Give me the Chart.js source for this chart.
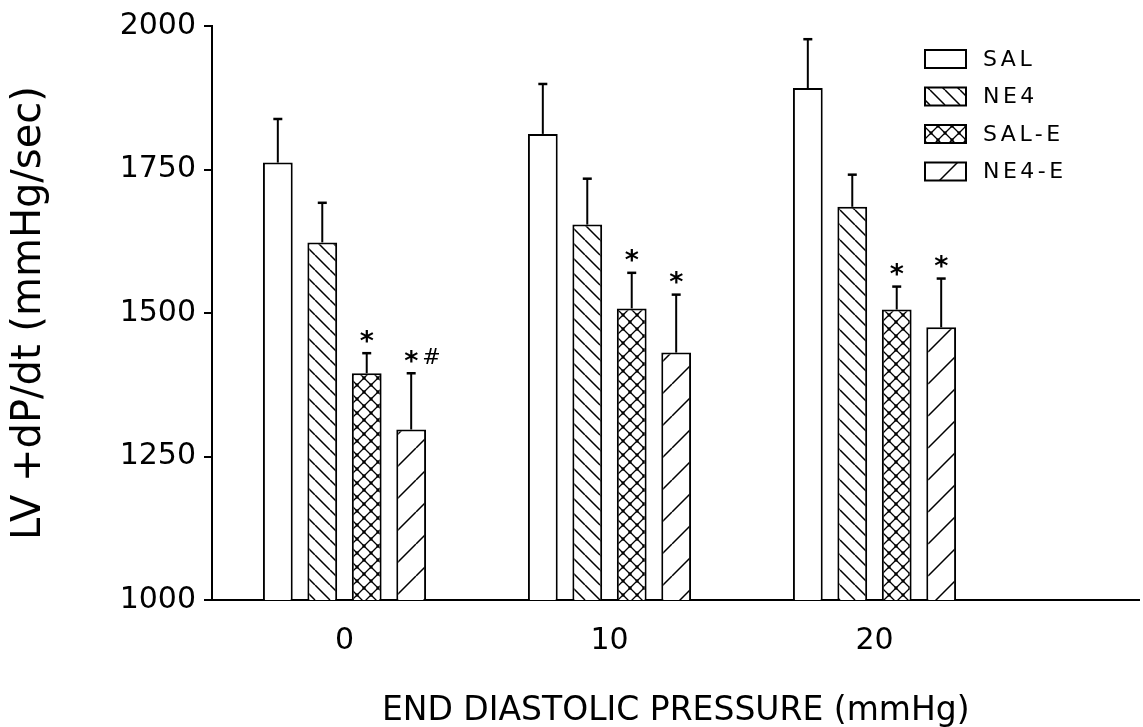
<!DOCTYPE html>
<html>
<head>
<meta charset="utf-8">
<title>LV +dP/dt vs end diastolic pressure</title>
<script src="https://cdn.jsdelivr.net/npm/chart.js@4.4.1/dist/chart.umd.min.js"></script>
<style>
  html, body { margin: 0; padding: 0; background: #ffffff; }
  #wrap { width: 1143px; height: 727px; }
</style>
</head>
<body>
<div id="wrap"><canvas id="c" width="1143" height="727"></canvas></div>
<script>
// End diastolic pressure levels (mmHg)
const pressures = [0, 10, 20];
const yTicks = [1000, 1250, 1500, 1750, 2000];

// Group means and SEM of LV +dP/dt (mmHg/sec)
const salMean  = [1762, 1812, 1892];
const salSem   = [76, 87, 85];
const ne4Mean  = [1623, 1654, 1685];
const ne4Sem   = [69, 80, 56];
const salEMean = [1395, 1508, 1506];
const salESem  = [35, 62, 40];
const ne4EMean = [1297, 1431, 1475];
const ne4ESem  = [98, 101, 85];

// Significance marks written above each error bar
const salMarks  = ['', '', ''];
const ne4Marks  = ['', '', ''];
const salEMarks = ['*', '*', '*'];
const ne4EMarks = ['*#', '*', '*'];

const canvas = document.getElementById('c');
const ctx = canvas.getContext('2d');

// Black-on-white hatch fills
function hatch(kind, period, lw) {
  const tile = document.createElement('canvas');
  tile.width = period; tile.height = period;
  const g = tile.getContext('2d');
  g.fillStyle = '#ffffff';
  g.fillRect(0, 0, period, period);
  g.strokeStyle = '#000000';
  g.lineWidth = lw;
  const P = period;
  g.beginPath();
  for (let k = -1; k <= 1; k++) {
    if (kind === 'back' || kind === 'cross') { g.moveTo(k * P, 0); g.lineTo(k * P + P, P); }
    if (kind === 'fwd' || kind === 'cross') { g.moveTo(k * P, P); g.lineTo(k * P + P, 0); }
  }
  g.stroke();
  if (kind === 'cross') {
    g.fillStyle = '#000000';
    [[0, 0], [P, 0], [0, P], [P, P], [P / 2, P / 2]].forEach(([x, y]) => {
      g.beginPath(); g.arc(x, y, 1.7, 0, Math.PI * 2); g.fill();
    });
  }
  return ctx.createPattern(tile, 'repeat');
}

const fills = {
  plain: '#ffffff',
  back: hatch('back', 15, 1.5),
  cross: hatch('cross', 14, 1.3),
  fwd: hatch('fwd', 32, 1.5)
};

function series(label, means, sems, marks, fill) {
  return {
    label: label,
    data: pressures.map((p, i) => ({ x: p, y: means[i] })),
    sem: sems,
    marks: marks,
    backgroundColor: fill,
    borderColor: '#000000',
    borderWidth: 2,
    categoryPercentage: 0.671,
    barPercentage: 0.67
  };
}

const datasets = [
  series('SAL', salMean, salSem, salMarks, fills.plain),
  series('NE4', ne4Mean, ne4Sem, ne4Marks, fills.back),
  series('SAL-E', salEMean, salESem, salEMarks, fills.cross),
  series('NE4-E', ne4EMean, ne4ESem, ne4EMarks, fills.fwd)
];

// Upward SEM whiskers with caps, plus significance marks
const errorBars = {
  id: 'errorBars',
  afterDatasetsDraw(chart) {
    const c = chart.ctx;
    const y = chart.scales.y;
    c.save();
    c.strokeStyle = '#000000';
    c.fillStyle = '#000000';
    chart.data.datasets.forEach((ds, di) => {
      const meta = chart.getDatasetMeta(di);
      meta.data.forEach((bar, i) => {
        const top = y.getPixelForValue(ds.data[i].y + ds.sem[i]);
        c.lineWidth = 2;
        c.beginPath();
        c.moveTo(bar.x, bar.y);
        c.lineTo(bar.x, top);
        c.stroke();
        c.lineWidth = 2.5;
        c.beginPath();
        c.moveTo(bar.x - 4.5, top);
        c.lineTo(bar.x + 4.5, top);
        c.stroke();
        const mark = ds.marks[i];
        if (mark) {
          c.textBaseline = 'alphabetic';
          c.textAlign = 'left';
          const cy = top - 17;
          let x = bar.x;
          Array.from(mark).forEach((ch, k) => {
            c.font = ch === '*' ? 'bold 27px "DejaVu Sans"' : '22px "DejaVu Sans"';
            const m = c.measureText(ch);
            const w = m.actualBoundingBoxLeft + m.actualBoundingBoxRight;
            if (k === 0) x = bar.x - w / 2;
            c.fillText(ch, x + m.actualBoundingBoxLeft, cy + (m.actualBoundingBoxAscent - m.actualBoundingBoxDescent) / 2);
            x += w + 5;
          });
        }
      });
    });
    c.restore();
  }
};

// Key in the upper right corner of the plot
const keyBox = {
  id: 'keyBox',
  afterDraw(chart, args, opts) {
    const c = chart.ctx;
    c.save();
    c.font = opts.fontSize + 'px "DejaVu Sans"';
    c.letterSpacing = opts.spacing + 'px';
    c.textBaseline = 'middle';
    c.textAlign = 'left';
    chart.data.datasets.forEach((ds, i) => {
      const cy = opts.top + i * opts.pitch;
      c.fillStyle = ds.backgroundColor;
      c.fillRect(opts.left, cy - opts.boxH / 2, opts.boxW, opts.boxH);
      c.lineWidth = 2;
      c.strokeStyle = '#000000';
      c.strokeRect(opts.left, cy - opts.boxH / 2, opts.boxW, opts.boxH);
      c.fillStyle = '#000000';
      c.fillText(ds.label, opts.left + opts.boxW + opts.gap, cy + 1);
    });
    c.restore();
  }
};

Chart.defaults.font.family = '"DejaVu Sans", sans-serif';
Chart.defaults.color = '#000000';

new Chart(ctx, {
  type: 'bar',
  data: { datasets: datasets },
  options: {
    responsive: false,
    animation: false,
    events: [],
    devicePixelRatio: 1,
    layout: { padding: { top: 25, left: 0, right: 3.5, bottom: 0 } },
    plugins: {
      legend: { display: false },
      tooltip: { enabled: false },
      keyBox: { left: 925, top: 59, pitch: 37.5, boxW: 41, boxH: 18, gap: 17, fontSize: 22, spacing: 3.5 }
    },
    scales: {
      x: {
        type: 'linear',
        min: -5,
        max: 30,
        offset: false,
        afterBuildTicks(scale) { scale.ticks = pressures.map(v => ({ value: v })); },
        afterFit(scale) { scale.height = 127; },
        grid: { display: false, drawTicks: false },
        border: { display: true, color: '#000000', width: 2 },
        ticks: {
          padding: 23,
          font: { size: 30 },
          color: '#000000',
          callback: (v) => String(v)
        },
        title: {
          display: true,
          text: 'END DIASTOLIC PRESSURE (mmHg)',
          font: { size: 33, lineHeight: 0.95 },
          color: '#000000',
          padding: { top: 0, bottom: 0 }
        }
      },
      y: {
        min: 1000,
        max: 2000,
        afterBuildTicks(scale) { scale.ticks = yTicks.map(v => ({ value: v })); },
        afterFit(scale) { scale.width = 212; },
        grid: { drawOnChartArea: false, drawTicks: true, tickLength: 8, color: '#000000', lineWidth: 2 },
        border: { display: true, color: '#000000', width: 2 },
        ticks: { padding: 8, font: { size: 30 }, color: '#000000', callback: (v) => String(v) },
        title: {
          display: true,
          text: 'LV +dP/dt (mmHg/sec)',
          font: { size: 40, lineHeight: 1 },
          color: '#000000',
          padding: { top: 10, bottom: 0 }
        }
      }
    }
  },
  plugins: [errorBars, keyBox]
});
</script>
</body>
</html>
